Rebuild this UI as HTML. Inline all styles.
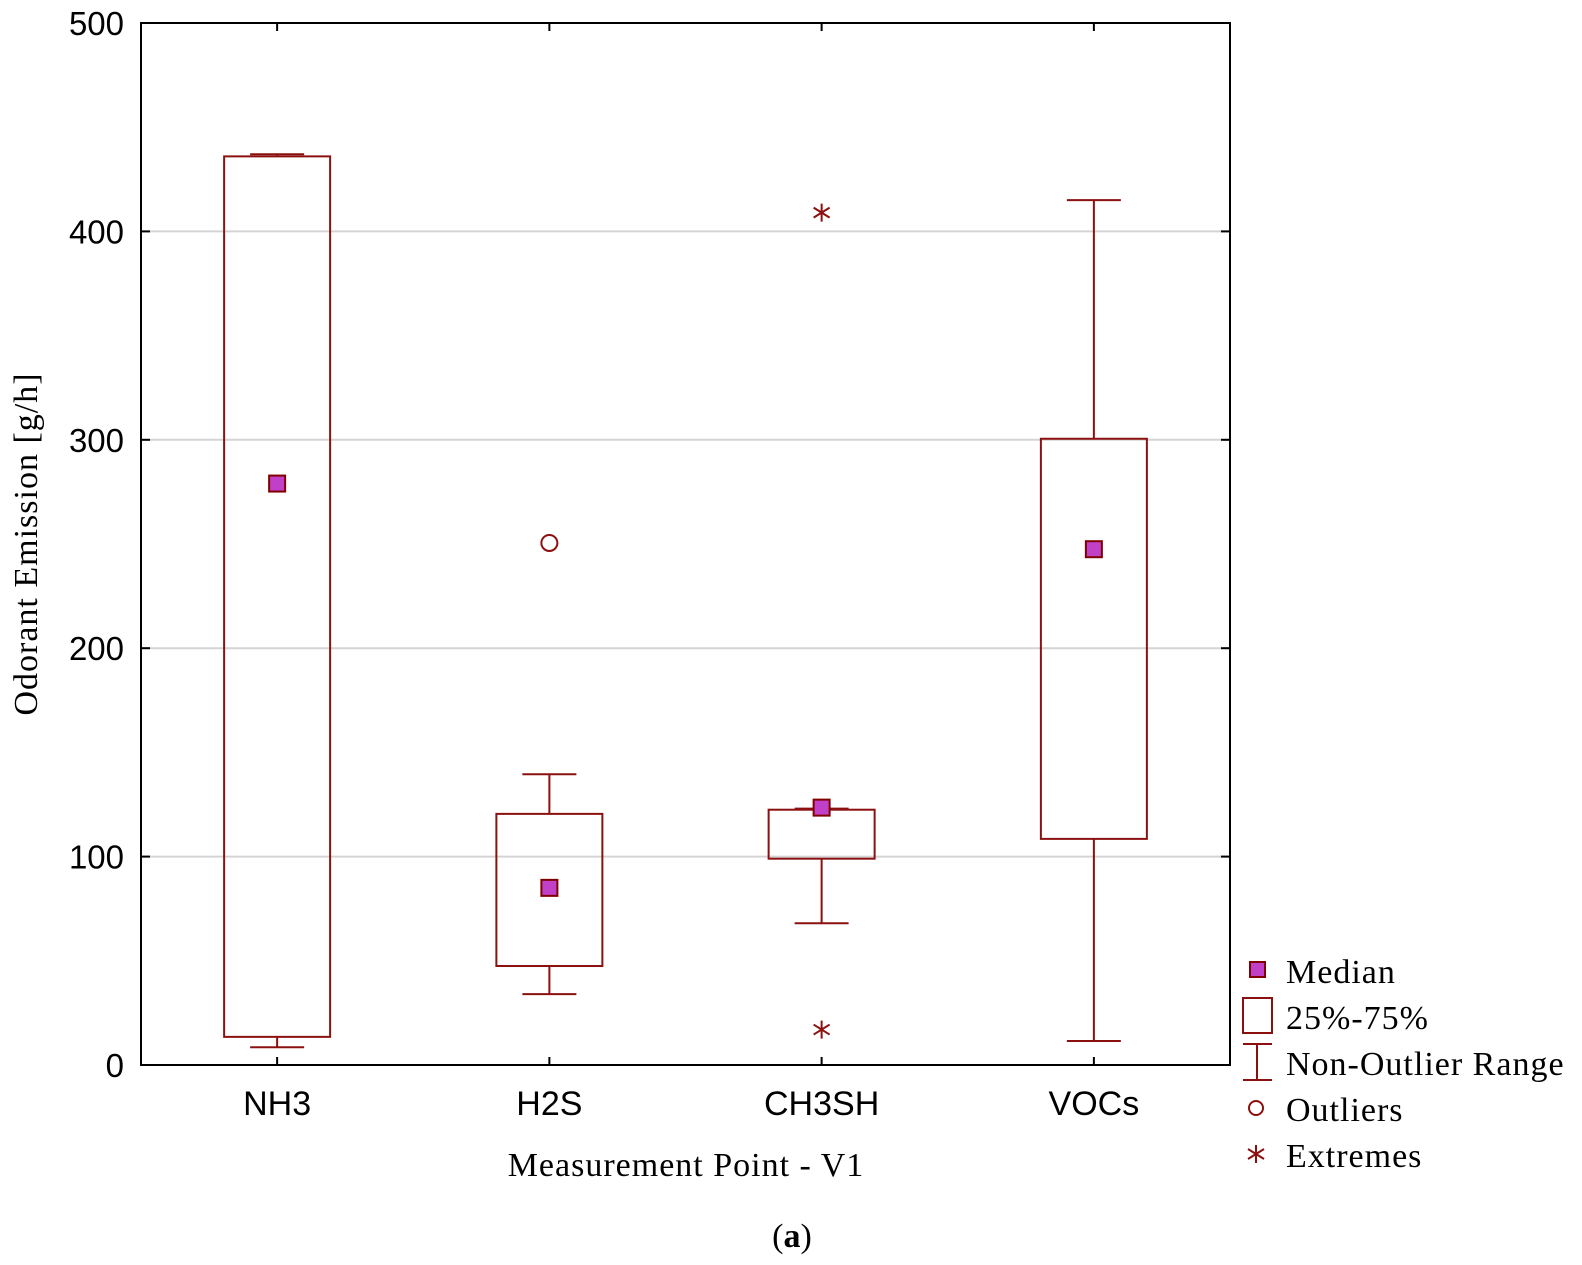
<!DOCTYPE html>
<html><head><meta charset="utf-8"><style>
html,body{margin:0;padding:0;background:#fff;}
svg{display:block;}
.sans{font-family:"Liberation Sans",sans-serif;}
.serif{font-family:"Liberation Serif",serif;}
</style></head><body>
<svg id="chart" width="1582" height="1265" viewBox="0 0 1582 1265" xmlns="http://www.w3.org/2000/svg">
<g id="grid"></g>
<g id="boxes"></g>
<rect x="141" y="23" width="1089" height="1042" fill="none" stroke="#000" stroke-width="2"/>
<g id="axes"></g>
<text class="serif" x="0" y="0" font-size="34" letter-spacing="1" text-anchor="middle" transform="translate(37,544) rotate(-90)">Odorant Emission [g/h]</text>
<text class="serif" x="686" y="1176" font-size="34" letter-spacing="1" text-anchor="middle">Measurement Point - V1</text>
<text class="serif" x="792" y="1247" font-size="34" text-anchor="middle">(<tspan font-weight="bold">a</tspan>)</text>
<g font-size="34" letter-spacing="1">
 <rect x="1250" y="962" width="15" height="15" fill="#c040c8" stroke="#800000" stroke-width="2"/>
 <text class="serif" x="1286" y="983">Median</text>
 <rect x="1243" y="998" width="29" height="35" fill="none" stroke="#8b1010" stroke-width="2"/>
 <text class="serif" x="1286" y="1029">25%-75%</text>
 <path d="M1243 1044H1272M1257 1044V1080M1243 1080H1272" stroke="#8b1010" stroke-width="2" fill="none"/>
 <text class="serif" x="1286" y="1075">Non-Outlier Range</text>
 <circle cx="1256" cy="1108" r="7" fill="none" stroke="#8b1010" stroke-width="2"/>
 <text class="serif" x="1286" y="1121">Outliers</text>
 <path d="M1256 1145V1163M1248 1149L1264 1159M1248 1159L1264 1149" stroke="#8b1010" stroke-width="2"/>
 <text class="serif" x="1286" y="1167">Extremes</text>
</g>
</svg>
<script>
const categories = ["NH3","H2S","CH3SH","VOCs"];
const q1 = [13.5, 47.5, 99, 108.5];
const q3 = [436, 120.5, 122.5, 300.5];
const whiskLow = [8.5, 34, 68, 11.5];
const whiskHigh = [437, 139.5, 123, 415];
const medians = [279, 85, 123.5, 247.5];
const outliers = [[], [250.5], [], []];
const extremes = [[], [], [409, 17], []];
const yTicks = [0,100,200,300,400,500];

const NS="http://www.w3.org/2000/svg";
const X0=141, X1=1230, Y0=1065, Y1=23, YMAX=500;
const RED="#8b1010";
function y(v){return Y0-(v/YMAX)*(Y0-Y1);}
function x(i){return X0+(X1-X0)/categories.length*(i+0.5);}
function mk(tag,attrs,parent){const e=document.createElementNS(NS,tag);for(const k in attrs)e.setAttribute(k,attrs[k]);parent.appendChild(e);return e;}
const grid=document.getElementById('grid'), axes=document.getElementById('axes'), boxes=document.getElementById('boxes');

yTicks.forEach(t=>{
  if(t>0&&t<YMAX){const g=mk('line',{x1:X0,x2:X1,y1:y(t),y2:y(t),stroke:'#d4d4d4','stroke-width':2},grid);
  
  }
  const tl=mk('line',{x1:X0,x2:X0+9,y1:y(t),y2:y(t),stroke:'#000','stroke-width':2},axes);
  
  
  const tr=mk('line',{x1:X1-9,x2:X1,y1:y(t),y2:y(t),stroke:'#000','stroke-width':2},axes);
  
  
  const lb=mk('text',{x:124,y:y(t)+12,'font-size':33,'text-anchor':'end','class':'sans'},axes);
  lb.textContent=t;
  
  
});
categories.forEach((c,i)=>{
  const cx=x(i);
  const tb=mk('line',{x1:cx,x2:cx,y1:Y0,y2:Y0-8,stroke:'#000','stroke-width':2},axes);
  
  
  const tt=mk('line',{x1:cx,x2:cx,y1:Y1,y2:Y1+8,stroke:'#000','stroke-width':2},axes);
  
  
  const lb=mk('text',{x:cx,y:1115,'font-size':34,'text-anchor':'middle','class':'sans'},axes);
  lb.textContent=c;
  
  

  const g=mk('g',{},boxes);
  
  
  const hw=53, cw=27;
  const wh=mk('path',{d:`M${cx-cw} ${y(whiskHigh[i])}H${cx+cw}M${cx} ${y(whiskHigh[i])}V${y(q3[i])}M${cx} ${y(q1[i])}V${y(whiskLow[i])}M${cx-cw} ${y(whiskLow[i])}H${cx+cw}`,stroke:RED,'stroke-width':2,fill:'none'},g);
  
  
  const r=mk('rect',{x:cx-hw,y:y(q3[i]),width:2*hw,height:y(q1[i])-y(q3[i]),fill:'none',stroke:RED,'stroke-width':2},g);
  
  
  const m=mk('rect',{x:cx-8,y:y(medians[i])-8,width:16,height:16,fill:'#c040c8',stroke:'#800000','stroke-width':2},g);
  
  
  outliers[i].forEach(v=>{
    const o=mk('circle',{cx:cx,cy:y(v),r:8,fill:'none',stroke:RED,'stroke-width':2},g);
    
    
  });
  extremes[i].forEach(v=>{
    const yy=y(v);
    const e=mk('path',{d:`M${cx} ${yy-9}V${yy+9}M${cx-8} ${yy-5}L${cx+8} ${yy+5}M${cx-8} ${yy+5}L${cx+8} ${yy-5}`,stroke:RED,'stroke-width':2},g);
    
    
  });
});
</script>
</body></html>
